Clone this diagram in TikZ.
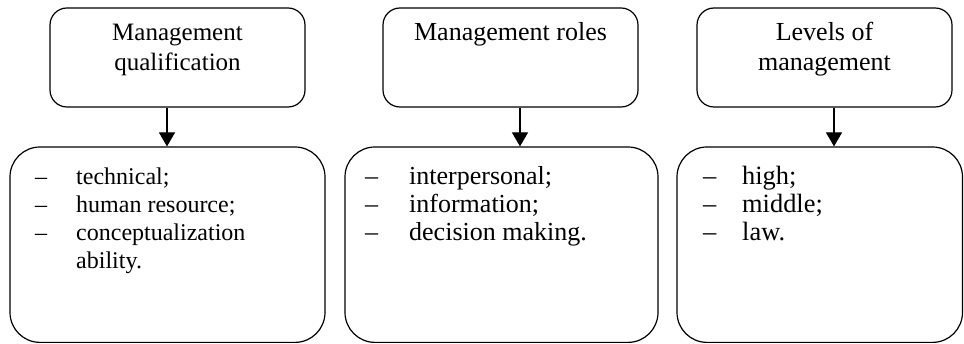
\documentclass[tikz,border=0pt]{standalone}
\usepackage{fontspec}
\setmainfont{Liberation Serif}
\usetikzlibrary{arrows.meta,fit}
\begin{document}
\begin{tikzpicture}[x=1pt,y=-1pt,
  head/.style={draw, line width=1.2pt, rounded corners=17pt, inner sep=0pt},
  list/.style={draw, line width=1.2pt, rounded corners=30pt, inner sep=0pt},
  ttl/.style={anchor=base, font=\fontsize{#1}{30}\selectfont, inner sep=0pt},
  itm/.style={anchor=base west, font=\fontsize{#1}{27.7}\selectfont, inner sep=0pt},
  conn/.style={line width=1.2pt, -{Triangle[width=16pt,length=14pt]}}
]
\useasboundingbox (0,0) rectangle (964,344);

% heading boxes
\node[head, fit={(50,8) (305,107)}] (t1) {};
\node[head, fit={(383,8) (638,107)}] (t2) {};
\node[head, fit={(697,8) (952,107)}] (t3) {};

% list boxes
\node[list, fit={(10,147) (325,342.4)}] (b1) {};
\node[list, fit={(345,147) (658,342.4)}] (b2) {};
\node[list, fit={(677,147) (962.5,342.4)}] (b3) {};

% titles
\node[ttl=25] (tt1) at (177.5,41) {\begin{tabular}[t]{@{}c@{}}Management\\qualification\end{tabular}};
\node[ttl=26] (tt2) at (510.5,41) {\begin{tabular}[t]{@{}c@{}}Management roles\end{tabular}};
\node[ttl=26] (tt3) at (824.5,41) {\begin{tabular}[t]{@{}c@{}}Levels of\\management\end{tabular}};

% lists
\node[itm=24] (l1) at (35,185) {\begin{tabular}[t]{@{}p{41pt}@{}l@{}}–&technical;\\–&human resource;\\–&conceptualization\\&ability.\end{tabular}};
\node[itm=26] (l2) at (365,185) {\begin{tabular}[t]{@{}p{44pt}@{}l@{}}–&interpersonal;\\–&information;\\–&decision making.\end{tabular}};
\node[itm=26.4] (l3) at (703,185) {\begin{tabular}[t]{@{}p{39pt}@{}l@{}}–&high;\\–&middle;\\–&law.\end{tabular}};

% connectors
\coordinate (x1) at (167,0);
\coordinate (x2) at (520,0);
\coordinate (x3) at (834,0);
\draw[conn] (t1.south -| x1) -- (b1.north -| x1);
\draw[conn] (t2.south -| x2) -- (b2.north -| x2);
\draw[conn] (t3.south -| x3) -- (b3.north -| x3);
\end{tikzpicture}
\end{document}
